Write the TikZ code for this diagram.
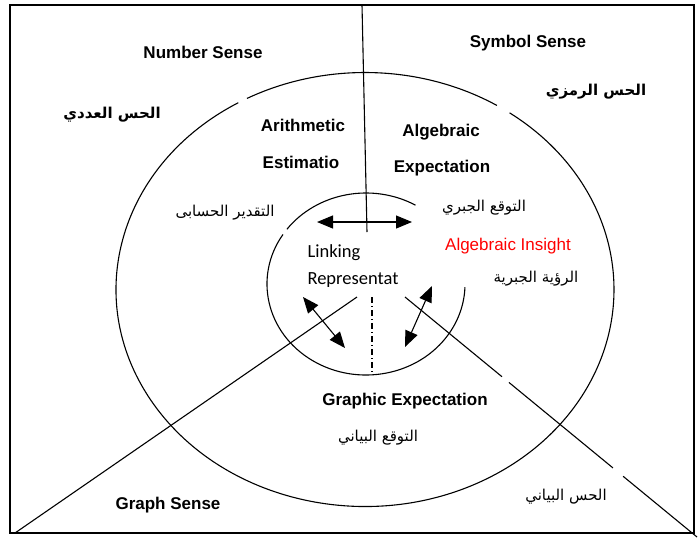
\documentclass[tikz,border=0pt]{standalone}
\usepackage{fontspec}
\setmainfont{Liberation Sans}
\newfontfamily\arabicfont[Script=Arabic]{DejaVu Sans}
\newfontfamily\calibrifont{Carlito}
\TeXXeTstate=1
\usetikzlibrary{arrows.meta,calc}

\begin{document}
\begin{tikzpicture}[x=1pt, y=1pt, line width=1.1pt,
  ensense/.style={font=\bfseries\fontsize{17}{20}\selectfont},
  arbold/.style={font=\arabicfont\bfseries\fontsize{15}{18}\selectfont},
  artext/.style={font=\arabicfont\fontsize{15}{18}\selectfont},
  insight/.style={font=\fontsize{17}{20}\selectfont, text=red},
  linktext/.style={font=\calibrifont\fontsize{18.5}{22}\selectfont, anchor=west, inner sep=0pt},
  twohead/.style={>={Triangle[length=16pt,width=13pt]}, <->}]
\useasboundingbox (0,0) rectangle (699,-547);
\begin{scope}
  % moldura
  \draw[line width=1.4pt] (10,-5) rectangle (694,-533);

  % divisores
  \coordinate (topend) at (362,-5);
  \coordinate (hubtop) at (367,-232);
  \coordinate (hubleft) at (357,-297);
  \coordinate (cornerleft) at (15,-533);
  \coordinate (hubright) at (405,-297);
  \coordinate (cornerright) at (697,-537);
  \draw (topend) -- (hubtop);
  \draw (hubleft) -- (cornerleft);
  \draw (hubright) -- ($(hubright)!0.332!(cornerright)$)
        ($(hubright)!0.356!(cornerright)$) -- ($(hubright)!0.712!(cornerright)$)
        ($(hubright)!0.747!(cornerright)$) -- (cornerright);

  % elipses
  \coordinate (bigc) at (365,-289.5);
  \draw (bigc) ++(58:249 and 217) arc[start angle=58, end angle=118.3, x radius=249, y radius=217];
  \draw (bigc) ++(120.6:249 and 217) arc[start angle=120.6, end angle=414.5, x radius=249, y radius=217];
  \coordinate (smallc) at (366,-284);
  \draw (smallc) ++(60:99 and 91) arc[start angle=60, end angle=143, x radius=99, y radius=91];
  \draw (smallc) ++(147:99 and 91) arc[start angle=147, end angle=358, x radius=99, y radius=91];

  % setas
  \coordinate (ha1) at (317,-222);  \coordinate (ha2) at (412,-222);
  \coordinate (la1) at (303,-297);  \coordinate (la2) at (345,-348);
  \coordinate (ra1) at (432,-286);  \coordinate (ra2) at (405,-347);
  \foreach \a/\b in {ha1/ha2, la1/la2, ra1/ra2}
    \draw[twohead] (\a) -- (\b);
  \coordinate (dd1) at (372,-297);  \coordinate (dd2) at (372,-375);
  \draw[dash pattern=on 6pt off 3pt on 1pt off 3pt] (dd1) -- (dd2);

  % textos
  \node[ensense] (num) at (203,-52) {Number Sense};
  \node[arbold] (numar) at (112,-115) {\beginR الحس العددي\endR};
  \node[ensense] (arith) at (303,-125) {Arithmetic};
  \node[ensense] (estim) at (301,-162) {Estimatio};
  \node[ensense] (sym) at (528,-43) {Symbol Sense};
  \node[arbold] (symar) at (596,-92) {\beginR الحس الرمزي\endR};
  \node[ensense] (alg) at (441,-132) {Algebraic};
  \node[ensense] (expect) at (442,-168) {Expectation};
  \node[artext] (taqdir) at (225,-213) {\beginR التقدير الحسابى\endR};
  \node[artext] (tawaqqu) at (484,-208) {\beginR التوقع الجبري\endR};
  \node[insight] (ins) at (508,-246) {Algebraic Insight};
  \node[artext] (ruya) at (536,-279) {\beginR الرؤية الجبرية\endR};
  \node[linktext] (link) at (307,-253) {Linking};
  \node[linktext] (repr) at (307,-280) {Representat};
  \node[ensense] (graphexp) at (405,-401) {Graphic Expectation};
  \node[artext] (tawaqqub) at (378,-438) {\beginR التوقع البياني\endR};
  \node[ensense] (graph) at (168,-505) {Graph Sense};
  \node[artext] (graphar) at (566,-497) {\beginR الحس البياني\endR};
\end{scope}
\end{tikzpicture}
\end{document}
